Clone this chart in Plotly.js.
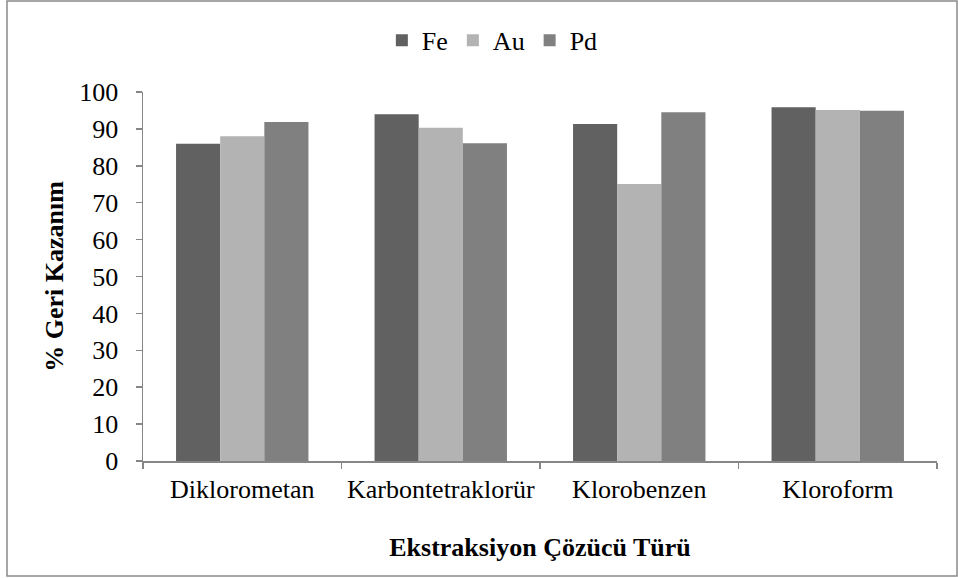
<!DOCTYPE html>
<html>
<head>
<meta charset="utf-8">
<script src="https://cdn.plot.ly/plotly-3.0.1.min.js"></script>
<style>
html,body{margin:0;padding:0;background:#fff;}
#chart{width:958px;height:578px;}
</style>
</head>
<body>
<div id="chart"></div>
<script>
const categories = ["Diklorometan", "Karbontetraklorür", "Klorobenzen", "Kloroform"];
const seriesNames = ["Fe", "Au", "Pd"];
const feValues = [86.0, 94.0, 91.3, 95.9];
const auValues = [88.0, 90.3, 75.1, 95.1];
const pdValues = [91.9, 86.1, 94.5, 94.9];
const seriesColors = ["#616161", "#b3b3b3", "#808080"];
const yTickValues = [0, 10, 20, 30, 40, 50, 60, 70, 80, 90, 100];

const allValues = [feValues, auValues, pdValues];
const font = "'Liberation Serif', serif";
const fs = 26;

const traces = seriesNames.map((name, i) => ({
  type: "bar",
  name: name,
  x: categories,
  y: allValues[i],
  marker: { color: seriesColors[i], line: { width: 0 } },
  hoverinfo: "x+y+name"
}));

const layout = {
  width: 958,
  height: 578,
  margin: { l: 143, r: 21, t: 92, b: 117 },
  paper_bgcolor: "#ffffff",
  plot_bgcolor: "#ffffff",
  font: { family: font, size: fs, color: "#000000" },
  barmode: "group",
  bargap: 0.333,
  bargroupgap: 0,
  showlegend: true,
  legend: {
    orientation: "h",
    x: 0.44,
    xanchor: "center",
    y: 1.14,
    yanchor: "middle",
    font: { family: font, size: fs, color: "#000" },
    bgcolor: "rgba(0,0,0,0)",
    itemclick: false
  },
  xaxis: {
    type: "category",
    showline: true,
    linecolor: "#868686",
    linewidth: 1.5,
    ticks: "outside",
    tickson: "boundaries",
    ticklen: 6,
    tickcolor: "#868686",
    tickwidth: 1.5,
    ticklabelstandoff: 4,
    showgrid: false,
    zeroline: false,
    tickfont: { family: font, size: fs, color: "#000" },
    title: {
      text: "<b>Ekstraksiyon Çözücü Türü</b>",
      font: { family: font, size: fs, color: "#000" },
      standoff: 35
    }
  },
  yaxis: {
    range: [0, 100],
    tickvals: yTickValues,
    ticktext: yTickValues.map(String),
    showline: true,
    linecolor: "#868686",
    linewidth: 1.5,
    ticks: "outside",
    ticklen: 6,
    tickcolor: "#868686",
    tickwidth: 1.5,
    ticklabelstandoff: 12,
    showgrid: false,
    zeroline: false,
    tickfont: { family: font, size: fs, color: "#000" },
    title: {
      text: "<b>% Geri Kazanım</b>",
      font: { family: font, size: fs, color: "#000" },
      standoff: 8
    }
  },
  shapes: [{
    type: "rect",
    xref: "paper",
    yref: "paper",
    x0: -0.1713,
    x1: 1.0252,
    y0: -0.3117,
    y1: 1.2466,
    line: { color: "#898989", width: 1.5 },
    fillcolor: "rgba(0,0,0,0)",
    layer: "below"
  }]
};

Plotly.newPlot("chart", traces, layout, { displayModeBar: false, staticPlot: true });
</script>
</body>
</html>
